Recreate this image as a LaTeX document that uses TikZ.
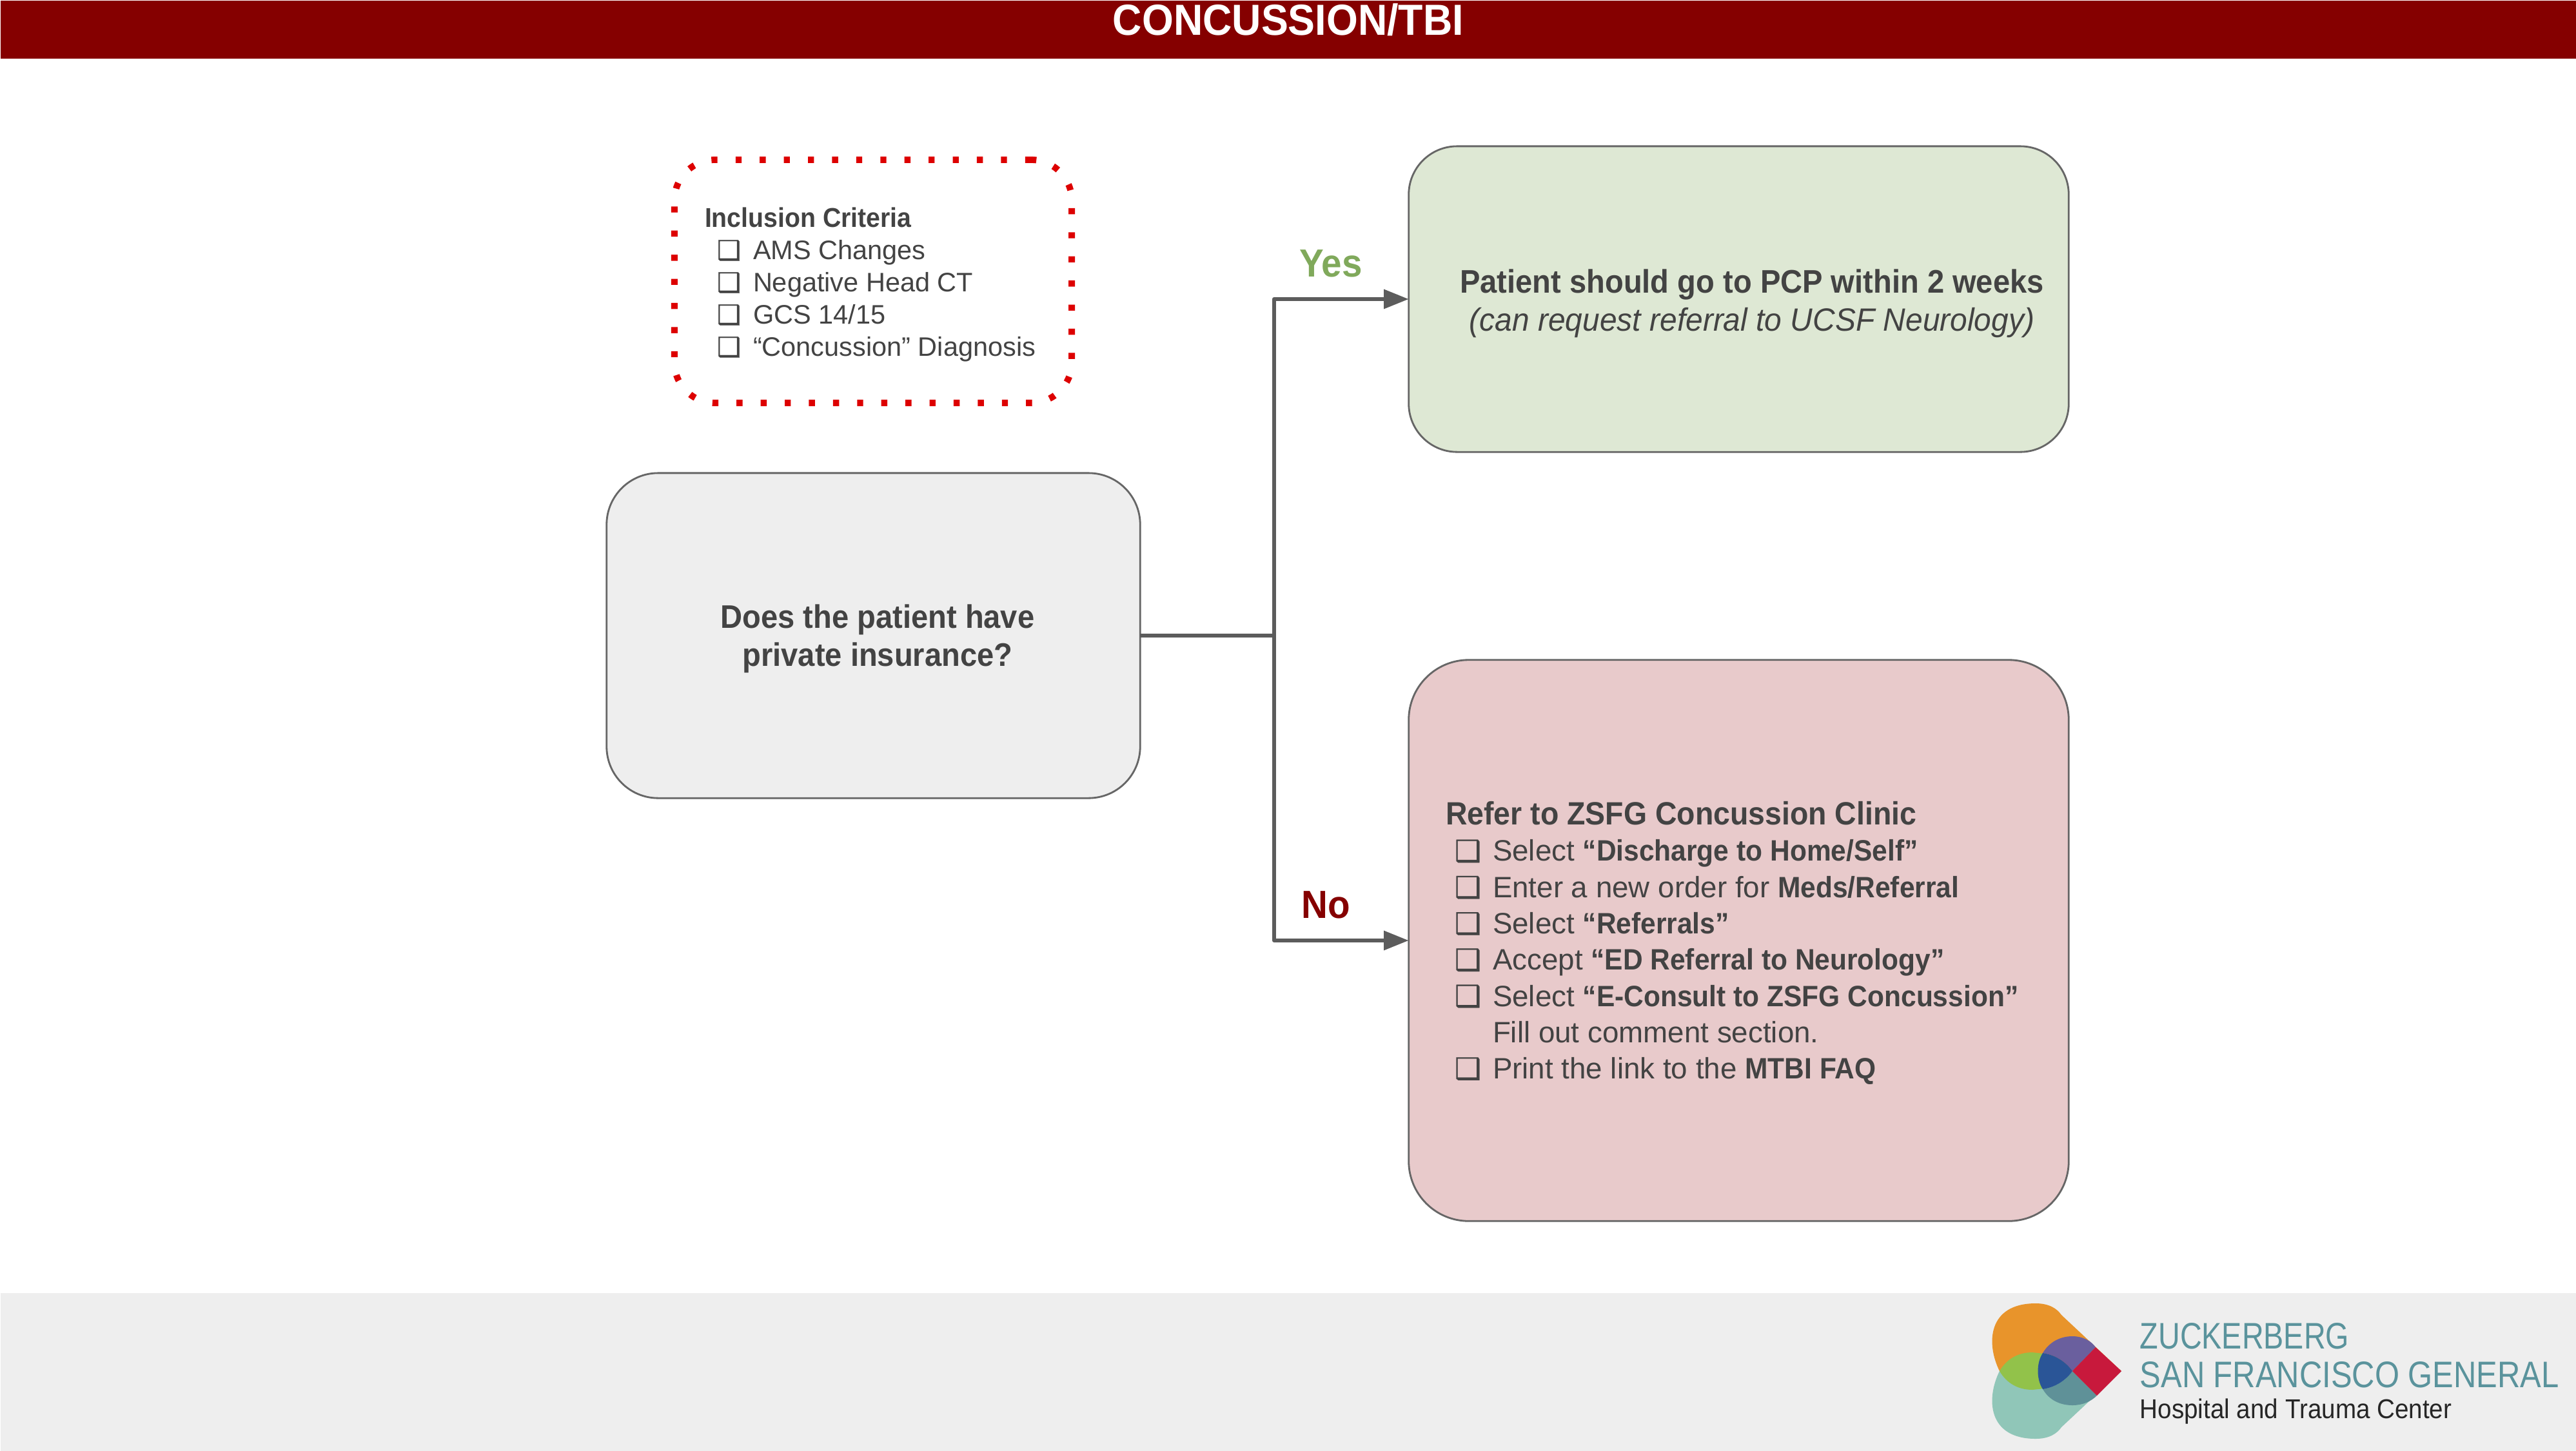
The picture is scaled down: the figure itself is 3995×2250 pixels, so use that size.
\documentclass[tikz,border=0pt]{standalone}
\usepackage{fontspec}
\usetikzlibrary{arrows.meta}
\setmainfont[BoldFeatures={FakeStretch=0.93},ItalicFeatures={FakeStretch=0.96}]{Liberation Sans}
\newfontfamily\cbfont[FakeBold=0.6]{DejaVu Sans}
\newfontfamily\logofontA[FakeStretch=0.815]{Liberation Sans}
\newfontfamily\logofontB[FakeStretch=0.854]{Liberation Sans}
\newfontfamily\logofontC[FakeStretch=0.915]{Liberation Sans}
\definecolor{hdr}{HTML}{850000}
\definecolor{foot}{HTML}{EEEEEE}
\definecolor{ink}{HTML}{434343}
\definecolor{edge}{HTML}{666666}
\definecolor{connc}{HTML}{5C5C5C}
\definecolor{greenbox}{HTML}{DEE8D4}
\definecolor{redbox}{HTML}{E8CACB}
\definecolor{dotred}{HTML}{DD0000}
\definecolor{yesgreen}{HTML}{80A95B}
\definecolor{logoteal}{HTML}{5A939C}
\newlength{\unitpx}\setlength{\unitpx}{0.01cm}
\newcommand{\itemS}[1]{\makebox[55\unitpx][l]{\makebox[0pt][l]{\hspace*{-1\unitpx}\cbfont ❑}}#1}
\tikzset{
  x=0.01cm,y=-0.01cm,
  card/.style={draw=edge,line width=0.8pt,outer sep=0pt,inner sep=0pt},
  conn/.style={draw=connc,line width=1.7pt,line join=round},
  txt/.style={text=ink,inner sep=0pt,outer sep=0pt},
  lab/.style={font=\fontsize{17.3}{20}\bfseries\selectfont,inner sep=0pt,anchor=base},
}
\begin{document}
\begin{tikzpicture}
\useasboundingbox (0,0) rectangle (3995,2250);
\fill[white] (0,0) rectangle (3995,2250);
\node[fill=hdr,minimum width=39.95cm,minimum height=0.90cm,inner sep=0pt,anchor=north west] (head) at (0,0) {};
\node[fill=foot,minimum width=39.95cm,minimum height=2.45cm,inner sep=0pt,anchor=north west] (footer) at (0,2005) {};
\node[text=white,inner sep=0pt,anchor=base,font=\fontsize{19.2}{22}\bfseries\selectfont] (title) at (1998,54) {CONCUSSION/TBI};

% cards
\node[card,fill=foot,rounded corners=0.80cm,minimum width=8.27cm,minimum height=5.04cm] (q) at (1354.5,986) {};
\node[card,fill=greenbox,rounded corners=0.75cm,minimum width=10.23cm,minimum height=4.74cm] (yesbox) at (2696.5,464) {};
\node[card,fill=redbox,rounded corners=0.93cm,minimum width=10.23cm,minimum height=8.70cm] (nobox) at (2696.5,1459) {};
\node[draw=dotred,line width=2.84pt,dash pattern=on 2.67pt off 7.97pt,rounded corners=0.63cm,minimum width=6.16cm,minimum height=3.77cm,inner sep=0pt,outer sep=0pt] (crit) at (1354,436.5) {};

% connectors
\coordinate (trunk) at (1976,986);
\draw[conn] (q.east) -- (trunk);
\draw[conn,-{Triangle[length=11pt,width=8.3pt]}] (trunk) |- (yesbox.west);
\draw[conn,-{Triangle[length=11pt,width=8.3pt]}] (trunk) |- (nobox.west);

\node[lab,text=yesgreen] (yes) at (2064,429) {Yes};
\node[lab,text=hdr] (no) at (2056,1424) {No};

% texts
\node[txt,anchor=north west,align=left,font=\fontsize{11.8}{14.22}\selectfont] (crittext) at (1093,322) {%
  \textbf{\fontsize{12}{14.22}\selectfont Inclusion Criteria}\\
  \hspace*{20\unitpx}\itemS{AMS Changes}\\
  \hspace*{20\unitpx}\itemS{Negative Head CT}\\
  \hspace*{20\unitpx}\itemS{GCS 14/15}\\
  \hspace*{20\unitpx}\itemS{“Concussion” Diagnosis}};

\node[txt,align=center,font=\fontsize{14.4}{16.8}\bfseries\selectfont] (qtext) at (1361,991) {Does the patient have\\private insurance?};

\node[txt,align=center,font=\fontsize{14.2}{16.8}\selectfont] (yestext) at (2717,471) {\textbf{\fontsize{14.4}{16.8}\selectfont Patient should go to PCP within 2 weeks}\\\textit{(can request referral to UCSF Neurology)}};

\node[txt,anchor=north west,align=left,font=\fontsize{13}{16}\selectfont] (notext) at (2242,1243.5) {%
  {\fontsize{14.2}{16}\selectfont\textbf{Refer to ZSFG Concussion Clinic}}\\
  \hspace*{15\unitpx}\itemS{\hspace*{3\unitpx}Select \textbf{“Discharge to Home/Self”}}\\
  \hspace*{15\unitpx}\itemS{\hspace*{3\unitpx}Enter a new order for \textbf{Meds/Referral}}\\
  \hspace*{15\unitpx}\itemS{\hspace*{3\unitpx}Select \textbf{“Referrals”}}\\
  \hspace*{15\unitpx}\itemS{\hspace*{3\unitpx}Accept \textbf{“ED Referral to Neurology”}}\\
  \hspace*{15\unitpx}\itemS{\hspace*{3\unitpx}Select \textbf{“E-Consult to ZSFG Concussion”}}\\
  \hspace*{73\unitpx}Fill out comment section.\\
  \hspace*{15\unitpx}\itemS{\hspace*{3\unitpx}Print the link to the \textbf{MTBI FAQ}}};

% logo
\fill[fill={rgb,255:red,232;green,148;blue,43}] (3101,2127) .. controls (3080,2085) and (3082,2022) .. (3157,2022) .. controls (3178,2022) and (3190,2030) .. (3197,2040) -- (3290,2127) -- cycle;
\fill[fill={rgb,255:red,144;green,198;blue,184}] (3101,2127) .. controls (3080,2169) and (3082,2232) .. (3157,2232) .. controls (3178,2232) and (3190,2224) .. (3197,2214) -- (3290,2127) -- cycle;
\fill[fill={rgb,255:red,146;green,194;blue,74}] (3101,2127) .. controls (3112,2108) and (3130,2098) .. (3152,2098) -- (3170,2100) -- (3170,2154) -- (3152,2156) .. controls (3130,2156) and (3112,2146) .. (3101,2127) -- cycle;
\fill[fill={rgb,255:red,106;green,95;blue,158}] (3168,2099) .. controls (3178,2082) and (3195,2073) .. (3214,2073) .. controls (3230,2073) and (3243,2080) .. (3250,2090) -- (3214,2127) .. controls (3204,2113) and (3188,2102) .. (3168,2099) -- cycle;
\fill[fill={rgb,255:red,95;green,145;blue,152}] (3168,2155) .. controls (3178,2172) and (3195,2180) .. (3214,2180) .. controls (3230,2180) and (3243,2174) .. (3252,2165) -- (3214,2127) .. controls (3204,2141) and (3188,2152) .. (3168,2155) -- cycle;
\fill[fill={rgb,255:red,42;green,85;blue,151}] (3168,2099) .. controls (3188,2102) and (3204,2113) .. (3214,2127) .. controls (3204,2141) and (3188,2152) .. (3168,2155) .. controls (3158,2140) and (3158,2114) .. (3168,2099) -- cycle;
\fill[fill={rgb,255:red,200;green,25;blue,60}] (3250,2090) -- (3290,2127) -- (3252,2165) -- (3214,2127) -- cycle;
\node[inner sep=0pt,anchor=base west,text=logoteal,font=\logofontA\fontsize{16.3}{18}\selectfont] (lz) at (3318,2092) {ZUCKERBERG};
\node[inner sep=0pt,anchor=base west,text=logoteal,font=\logofontB\fontsize{16.3}{18}\selectfont] (ls) at (3318,2152) {SAN FRANCISCO GENERAL};
\node[inner sep=0pt,anchor=base west,text=black!85,font=\logofontC\fontsize{12}{14}\selectfont] (lh) at (3318,2200) {Hospital and Trauma Center};
\end{tikzpicture}
\end{document}
